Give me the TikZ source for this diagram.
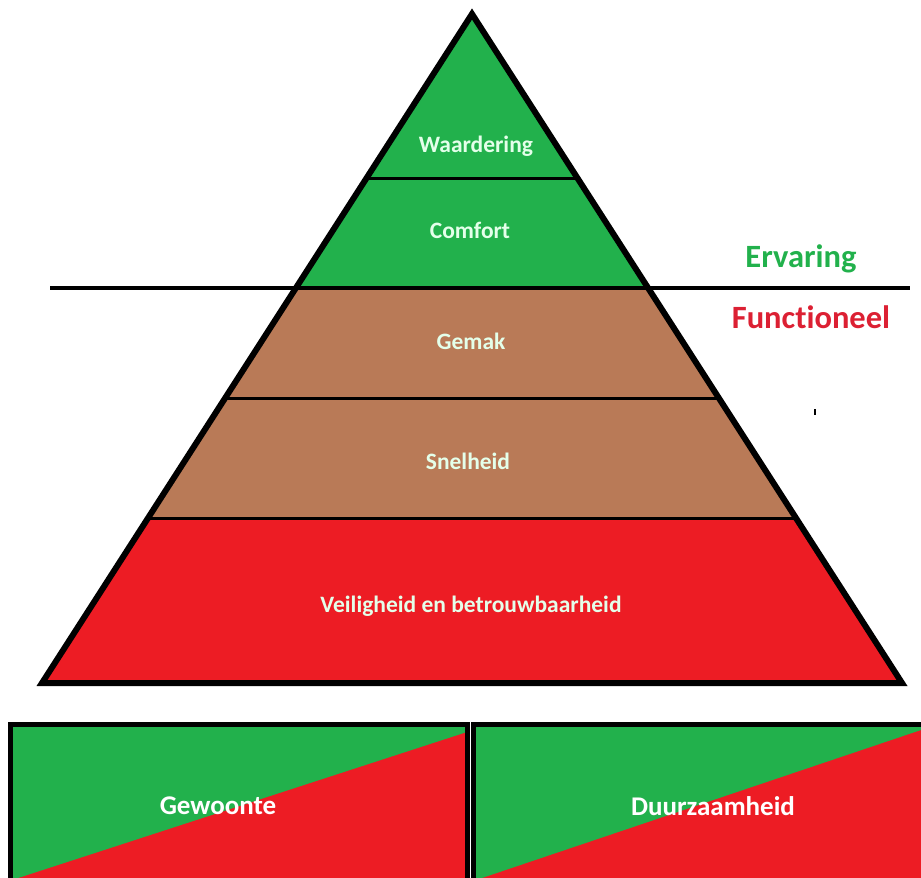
\documentclass[tikz,border=0pt]{standalone}
\usepackage{fontspec}
\setmainfont[Ligatures={NoCommon}]{Carlito}
\definecolor{pgreen}{HTML}{22B14C}
\definecolor{pbrown}{HTML}{B97A57}
\definecolor{pred}{HTML}{ED1C24}
\definecolor{ptext}{HTML}{E4FFEA}
\definecolor{fred}{HTML}{DC2033}
\tikzset{
  lvl/.style={font=\bfseries\fontsize{23.5}{26}\selectfont, text=ptext, inner sep=0pt},
  side/.style={font=\bfseries\fontsize{32.5}{36}\selectfont, inner sep=0pt},
  boxlbl/.style={font=\bfseries\fontsize{27}{30}\selectfont, text=white, inner sep=0pt},
  divider/.style={line width=3pt, black},
  outline/.style={line width=6pt, black},
}
\begin{document}
\begin{tikzpicture}[x=1pt,y=-1pt]
\useasboundingbox (0,0) rectangle (921,878);
% pyramid corners
\coordinate (apex) at (472,14);
\coordinate (bl) at (42,683);
\coordinate (br) at (902,683);
% bands
\begin{scope}
  \clip (apex) -- (bl) -- (br) -- cycle;
  \fill[pgreen] (0,0) rectangle (921,288);
  \fill[pbrown] (0,288) rectangle (921,518);
  \fill[pred] (0,518) rectangle (921,690);
  \draw[divider] (0,178) -- (921,178);
  \draw[divider] (0,398) -- (921,398);
  \draw[divider] (0,518) -- (921,518);
\end{scope}
\coordinate (lineL) at (50,288);
\coordinate (lineR) at (910,288);
\draw[line width=4pt] (lineL) -- (lineR);
\draw[outline] (apex) -- (bl) -- (br) -- cycle;
% labels
\node[lvl] (waard) at (476,146) {Waardering};
\node[lvl] (comf) at (470,230) {Comfort};
\node[lvl] (gemak) at (471,341) {Gemak};
\node[lvl] (snel) at (468,461) {Snelheid};
\node[lvl] (veil) at (471,606) {Veiligheid en betrouwbaarheid};
\node[side, text=pgreen] (erv) at (801,259) {Ervaring};
\node[side, text=fred] (func) at (811,317) {Functioneel};
% stray mark
\fill[black] (814,409) rectangle (816,415);
% bottom boxes
\begin{scope}
  \clip (10,724) rectangle (467,878);
  \fill[pred] (10,724) rectangle (467,878);
  \fill[pgreen] (10,724) -- (467,724) -- (467,732) -- (12,880) -- cycle;
\end{scope}
\draw[line width=5pt] (10,890) -- (10,724) -- (467,724) -- (467,890);
\begin{scope}
  \clip (473,724) rectangle (921,878);
  \fill[pred] (473,724) rectangle (921,878);
  \fill[pgreen] (473,724) -- (921,724) -- (921,730) -- (476,880) -- cycle;
\end{scope}
\draw[line width=5pt] (473,890) -- (473,724) -- (925,724);
\node[boxlbl] (gew) at (218,806) {Gewoonte};
\node[boxlbl] (duur) at (713,806) {Duurzaamheid};
\end{tikzpicture}
\end{document}
